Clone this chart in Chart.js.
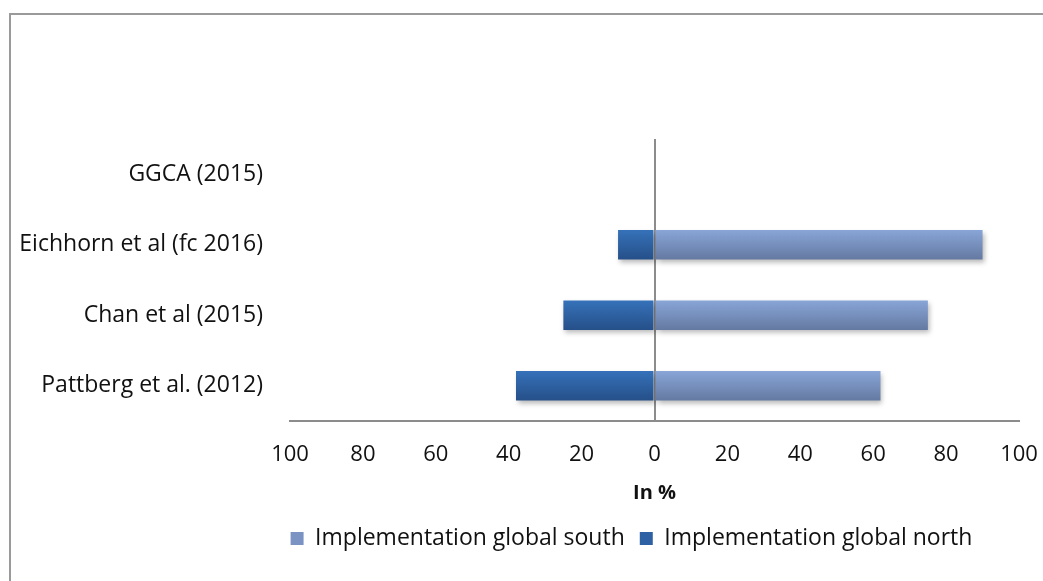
<!DOCTYPE html>
<html>
<head>
<meta charset="utf-8">
<script src="https://cdn.jsdelivr.net/npm/chart.js@4/dist/chart.umd.min.js"></script>
<style>
    body { margin: 0; background: #fff; }
    #wrap { position: relative; width: 1043px; height: 581px; }
    #frame {
        position: absolute; left: 9px; top: 13px; right: -4px; bottom: -4px;
        border-top: 2px solid #9a9a9a; border-left: 2px solid #9a9a9a;
    }
    #chart { position: absolute; left: 0; top: 0; }
</style>
</head>
<body>
<div id="wrap">
    <div id="frame"></div>
    <canvas id="chart" width="1043" height="581"></canvas>
</div>
<script>
// categories, top to bottom
const studies = ['GGCA (2015)', 'Eichhorn et al (fc 2016)', 'Chan et al (2015)', 'Pattberg et al. (2012)'];
// share of implementation (%), north drawn to the left as negatives
const southShare = [null, 90, 75, 62];
const northShare = [null, -10, -25, -38];
const seriesNames = ['Implementation global south', 'Implementation global north'];

const FONT = '"Open Sans", Lato, sans-serif';
const AXIS_GREY = '#8c8c8c';

// vertical gradient over each bar, like the Office look
function barFill(topColor, bottomColor, flat) {
    return (c) => {
        const chart = c.chart;
        const yScale = chart.scales.y;
        if (!yScale || c.dataIndex === undefined || !chart.chartArea) return flat;
        const mid = yScale.getPixelForValue(c.dataIndex);
        const g = chart.ctx.createLinearGradient(0, mid - 15, 0, mid + 15);
        g.addColorStop(0, topColor);
        g.addColorStop(1, bottomColor);
        return g;
    };
}

// soft drop shadow under the bars
const barShadow = {
    id: 'barShadow',
    beforeDatasetsDraw(chart) {
        const ctx = chart.ctx;
        ctx.save();
        ctx.shadowColor = 'rgba(0,0,0,0.28)';
        ctx.shadowBlur = 5;
        ctx.shadowOffsetX = 2;
        ctx.shadowOffsetY = 3;
    },
    afterDatasetsDraw(chart) {
        chart.ctx.restore();
    }
};

// the legend sits right of centre in the original
const legendShift = {
    id: 'legendShift',
    afterLayout(chart) {
        chart.legend.left += 122;
        chart.legend.right += 122;
    }
};

const legendColors = ['#7a93c2', '#2d61a3'];

new Chart(document.getElementById('chart'), {
    type: 'bar',
    data: {
        labels: studies,
        datasets: [{
            label: seriesNames[0],
            data: southShare,
            backgroundColor: barFill('#89a6d8', '#6479a1', '#7a93c2'),
            borderWidth: 0
        }, {
            label: seriesNames[1],
            data: northShare,
            backgroundColor: barFill('#3672ba', '#254f88', '#2d61a3'),
            borderWidth: 0
        }]
    },
    options: {
        indexAxis: 'y',
        responsive: false,
        animation: false,
        layout: { padding: { top: 139, right: 24, bottom: 21, left: 0 } },
        datasets: { bar: { categoryPercentage: 1, barPercentage: 0.42 } },
        scales: {
            x: {
                stacked: true,
                min: -100,
                max: 100,
                afterFit: (s) => {
                    s.height = 91;
                    // end labels may overhang, keep the plot edges fixed
                    s.paddingLeft = 0;
                    s.paddingRight = 0;
                },
                ticks: {
                    stepSize: 20,
                    padding: 21,
                    color: '#111',
                    font: { family: FONT, size: 22 },
                    callback: (v) => Math.abs(v)
                },
                grid: {
                    drawTicks: false,
                    lineWidth: 2,
                    color: (c) => (c.tick && c.tick.value === 0) ? AXIS_GREY : 'rgba(0,0,0,0)'
                },
                border: { display: true, color: AXIS_GREY, width: 2 },
                title: {
                    display: true,
                    text: 'In %',
                    color: '#111',
                    font: { family: FONT, size: 20, weight: 'bold' },
                    padding: { top: 4, bottom: 7 }
                }
            },
            y: {
                stacked: true,
                afterFit: (s) => { s.width = 290; },
                ticks: {
                    padding: 27,
                    color: '#111',
                    font: { family: FONT, size: 23 }
                },
                grid: { display: false, drawTicks: false },
                border: { display: false }
            }
        },
        plugins: {
            tooltip: { enabled: false },
            legend: {
                position: 'bottom',
                labels: {
                    boxWidth: 13,
                    boxHeight: 13,
                    padding: 15,
                    color: '#111',
                    font: { family: FONT, size: 23 },
                    generateLabels: (chart) =>
                        Chart.defaults.plugins.legend.labels.generateLabels(chart).map((item, i) => ({
                            ...item, fillStyle: legendColors[i], strokeStyle: legendColors[i], lineWidth: 0
                        }))
                }
            }
        }
    },
    plugins: [barShadow, legendShift]
});
</script>
</body>
</html>
